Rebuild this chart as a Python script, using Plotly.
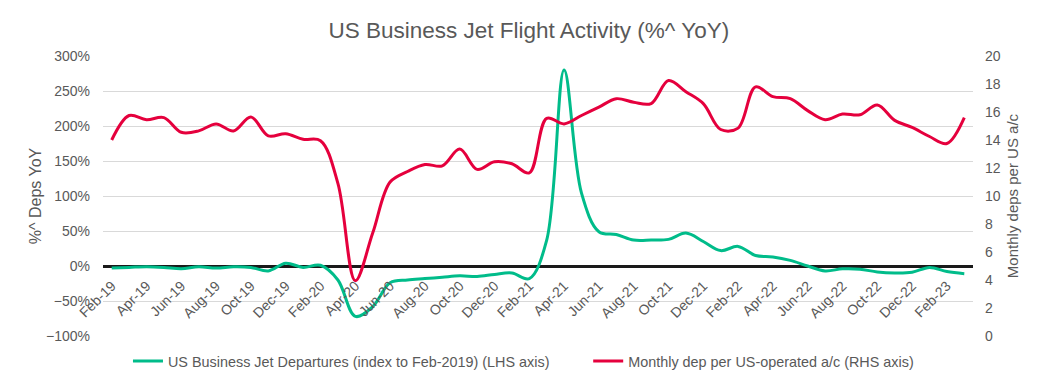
import plotly.graph_objects as go

months = ["Feb-19", "Mar-19", "Apr-19", "May-19", "Jun-19", "Jul-19", "Aug-19", "Sep-19", "Oct-19", "Nov-19",
          "Dec-19", "Jan-20", "Feb-20", "Mar-20", "Apr-20", "May-20", "Jun-20", "Jul-20", "Aug-20", "Sep-20",
          "Oct-20", "Nov-20", "Dec-20", "Jan-21", "Feb-21", "Mar-21", "Apr-21", "May-21", "Jun-21", "Jul-21",
          "Aug-21", "Sep-21", "Oct-21", "Nov-21", "Dec-21", "Jan-22", "Feb-22", "Mar-22", "Apr-22", "May-22",
          "Jun-22", "Jul-22", "Aug-22", "Sep-22", "Oct-22", "Nov-22", "Dec-22", "Jan-23", "Feb-23", "Mar-23"]

departures_yoy = [-3, -2, -1, -2, -4, -1, -3, -1, -2, -7,
                  4, -2, 1, -20, -72, -58, -24, -20, -18, -16,
                  -14, -15, -12, -10, -18, 37, 280, 104, 49, 45,
                  37, 37, 38, 47, 35, 22, 28, 15, 13, 8,
                  0, -7, -4, -4.5, -8.5, -10, -9, -2, -8, -11]

deps_per_ac = [14.0, 15.75, 15.45, 15.6, 14.55, 14.65, 15.15, 14.65, 15.65, 14.3,
               14.45, 14.05, 13.95, 10.9, 3.95, 7.35, 11.0, 11.75, 12.25, 12.15,
               13.35, 11.9, 12.45, 12.3, 11.65, 15.55, 15.15, 15.75, 16.35, 16.95,
               16.7, 16.6, 18.25, 17.45, 16.6, 14.75, 14.85, 17.8, 17.1, 16.95,
               16.1, 15.45, 15.85, 15.8, 16.5, 15.4, 14.9, 14.25, 13.75, 15.6]

tick_labels = months[::2]

GREY = "#595959"
GREEN = "#00BC8A"
RED = "#E5003D"
FONT = "Liberation Sans, Arial, sans-serif"

fig = go.Figure()
fig.add_trace(go.Scatter(
    x=months, y=departures_yoy, mode="lines",
    name="US Business Jet Departures (index to Feb-2019) (LHS axis)",
    line=dict(color=GREEN, width=3, shape="spline", smoothing=1.0),
    yaxis="y", legend="legend"))
fig.add_trace(go.Scatter(
    x=months, y=deps_per_ac, mode="lines",
    name="Monthly dep per US-operated a/c (RHS axis)",
    line=dict(color=RED, width=3, shape="spline", smoothing=1.0),
    yaxis="y2", legend="legend2"))

legend_common = dict(orientation="h", xanchor="left", y=-0.09, yanchor="middle",
                     font=dict(size=14.4, color=GREY), bgcolor="rgba(0,0,0,0)", itemwidth=30)

fig.update_layout(
    width=1041, height=391,
    margin=dict(l=103, r=68, t=56, b=55),
    paper_bgcolor="white", plot_bgcolor="white",
    font=dict(family=FONT, size=14, color=GREY),
    title=dict(text="US Business Jet Flight Activity (%^ YoY)", font=dict(size=22.5, color=GREY),
               x=0.508, xanchor="center", xref="container", y=0.923, yanchor="middle", yref="container"),
    xaxis=dict(type="category", categoryorder="array", categoryarray=months,
               range=[-0.5, len(months) - 0.5],
               tickmode="array", tickvals=tick_labels, ticktext=tick_labels,
               tickangle=-45, showgrid=False, showline=False, zeroline=False, ticks="",
               ticklabelstandoff=8,
               anchor="free", position=0.25, tickfont=dict(size=14, color=GREY)),
    yaxis=dict(range=[-100, 300], dtick=50, ticksuffix="%", showgrid=True, gridcolor="#D9D9D9",
               gridwidth=1, zeroline=True, zerolinecolor="#1a1a1a", zerolinewidth=2.5,
               ticklabelstandoff=12,
               title=dict(text="%^ Deps YoY", font=dict(size=16, color=GREY), standoff=0),
               tickfont=dict(size=14, color=GREY), ticks="", domain=[0, 1]),
    yaxis2=dict(range=[0, 20], dtick=2, overlaying="y", side="right", showgrid=False, zeroline=False,
                ticklabelstandoff=11,
                title=dict(text="Monthly deps per US a/c", font=dict(size=15, color=GREY), standoff=7),
                tickfont=dict(size=14, color=GREY), ticks=""),
    legend=dict(x=0.0287, **legend_common),
    legend2=dict(x=0.5577, **legend_common),
    showlegend=True,
)

fig.write_html("out.html", config={"displayModeBar": False},
               post_script="document.body.style.margin='0px';")
